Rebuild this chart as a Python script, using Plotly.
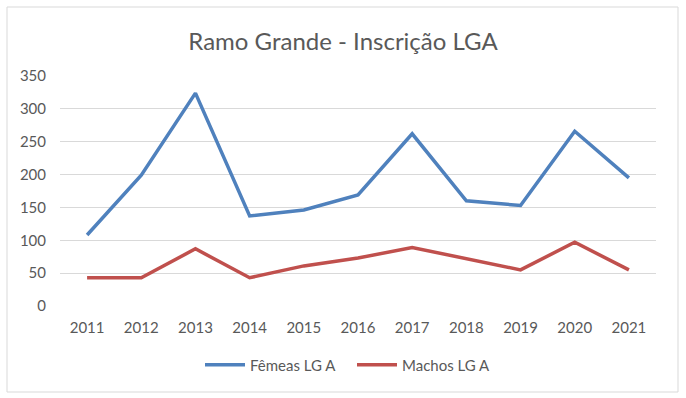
import plotly.graph_objects as go

years = ["2011", "2012", "2013", "2014", "2015", "2016", "2017", "2018", "2019", "2020", "2021"]
femeas = [108, 199, 324, 137, 146, 169, 262, 160, 153, 266, 195]
machos = [43, 43, 87, 43, 61, 73, 89, 72, 55, 97, 55]
y_ticks = [0, 50, 100, 150, 200, 250, 300, 350]

W, H = 686, 398
L, R, T, B = 60, 30, 76, 92
pw, ph = W - L - R, H - T - B

fig = go.Figure()
fig.add_trace(go.Scatter(x=years, y=femeas, mode="lines", name="Fêmeas LG A",
                         line=dict(color="#4F81BD", width=3.5)))
fig.add_trace(go.Scatter(x=years, y=machos, mode="lines", name="Machos LG A",
                         line=dict(color="#C0504D", width=3.5)))

font = "Lato, 'Open Sans', sans-serif"
fig.update_layout(
    width=W, height=H,
    margin=dict(l=L, r=R, t=T, b=B),
    paper_bgcolor="white", plot_bgcolor="white",
    font=dict(family=font, size=15, color="#595959"),
    title=dict(text="Ramo Grande - Inscrição LGA", x=0.5, xanchor="center",
               y=1 - 42 / H, yanchor="middle",
               font=dict(family=font, size=24, color="#595959")),
    xaxis=dict(type="category", range=[-0.5, len(years) - 0.5], showgrid=False,
               showline=False, ticks="outside", ticklen=8, tickcolor="rgba(0,0,0,0)",
               tickfont=dict(size=15, color="#595959")),
    yaxis=dict(range=[0, 350], tickvals=y_ticks, showgrid=True, gridcolor="#D9D9D9",
               gridwidth=1, zeroline=False, showline=False, ticks="outside",
               ticklen=10, tickcolor="rgba(0,0,0,0)",
               tickfont=dict(size=15, color="#595959")),
    legend=dict(orientation="h", x=(200 - L) / pw, xanchor="left", y=(306 - 365) / ph,
                yanchor="middle", font=dict(size=15, color="#595959"),
                itemwidth=40, entrywidth=97, entrywidthmode="pixels"),
    showlegend=True,
    shapes=[dict(type="rect", xref="paper", yref="paper",
                 x0=(7 - L) / pw, x1=(678 - L) / pw,
                 y0=(H - B - 392) / ph, y1=(H - B - 7) / ph,
                 line=dict(color="#D9D9D9", width=1), fillcolor="rgba(0,0,0,0)",
                 layer="below")],
)

fig.write_html("out.html", config={"displayModeBar": False},
               post_script="document.body.style.margin='0px';document.body.style.padding='0px';")
